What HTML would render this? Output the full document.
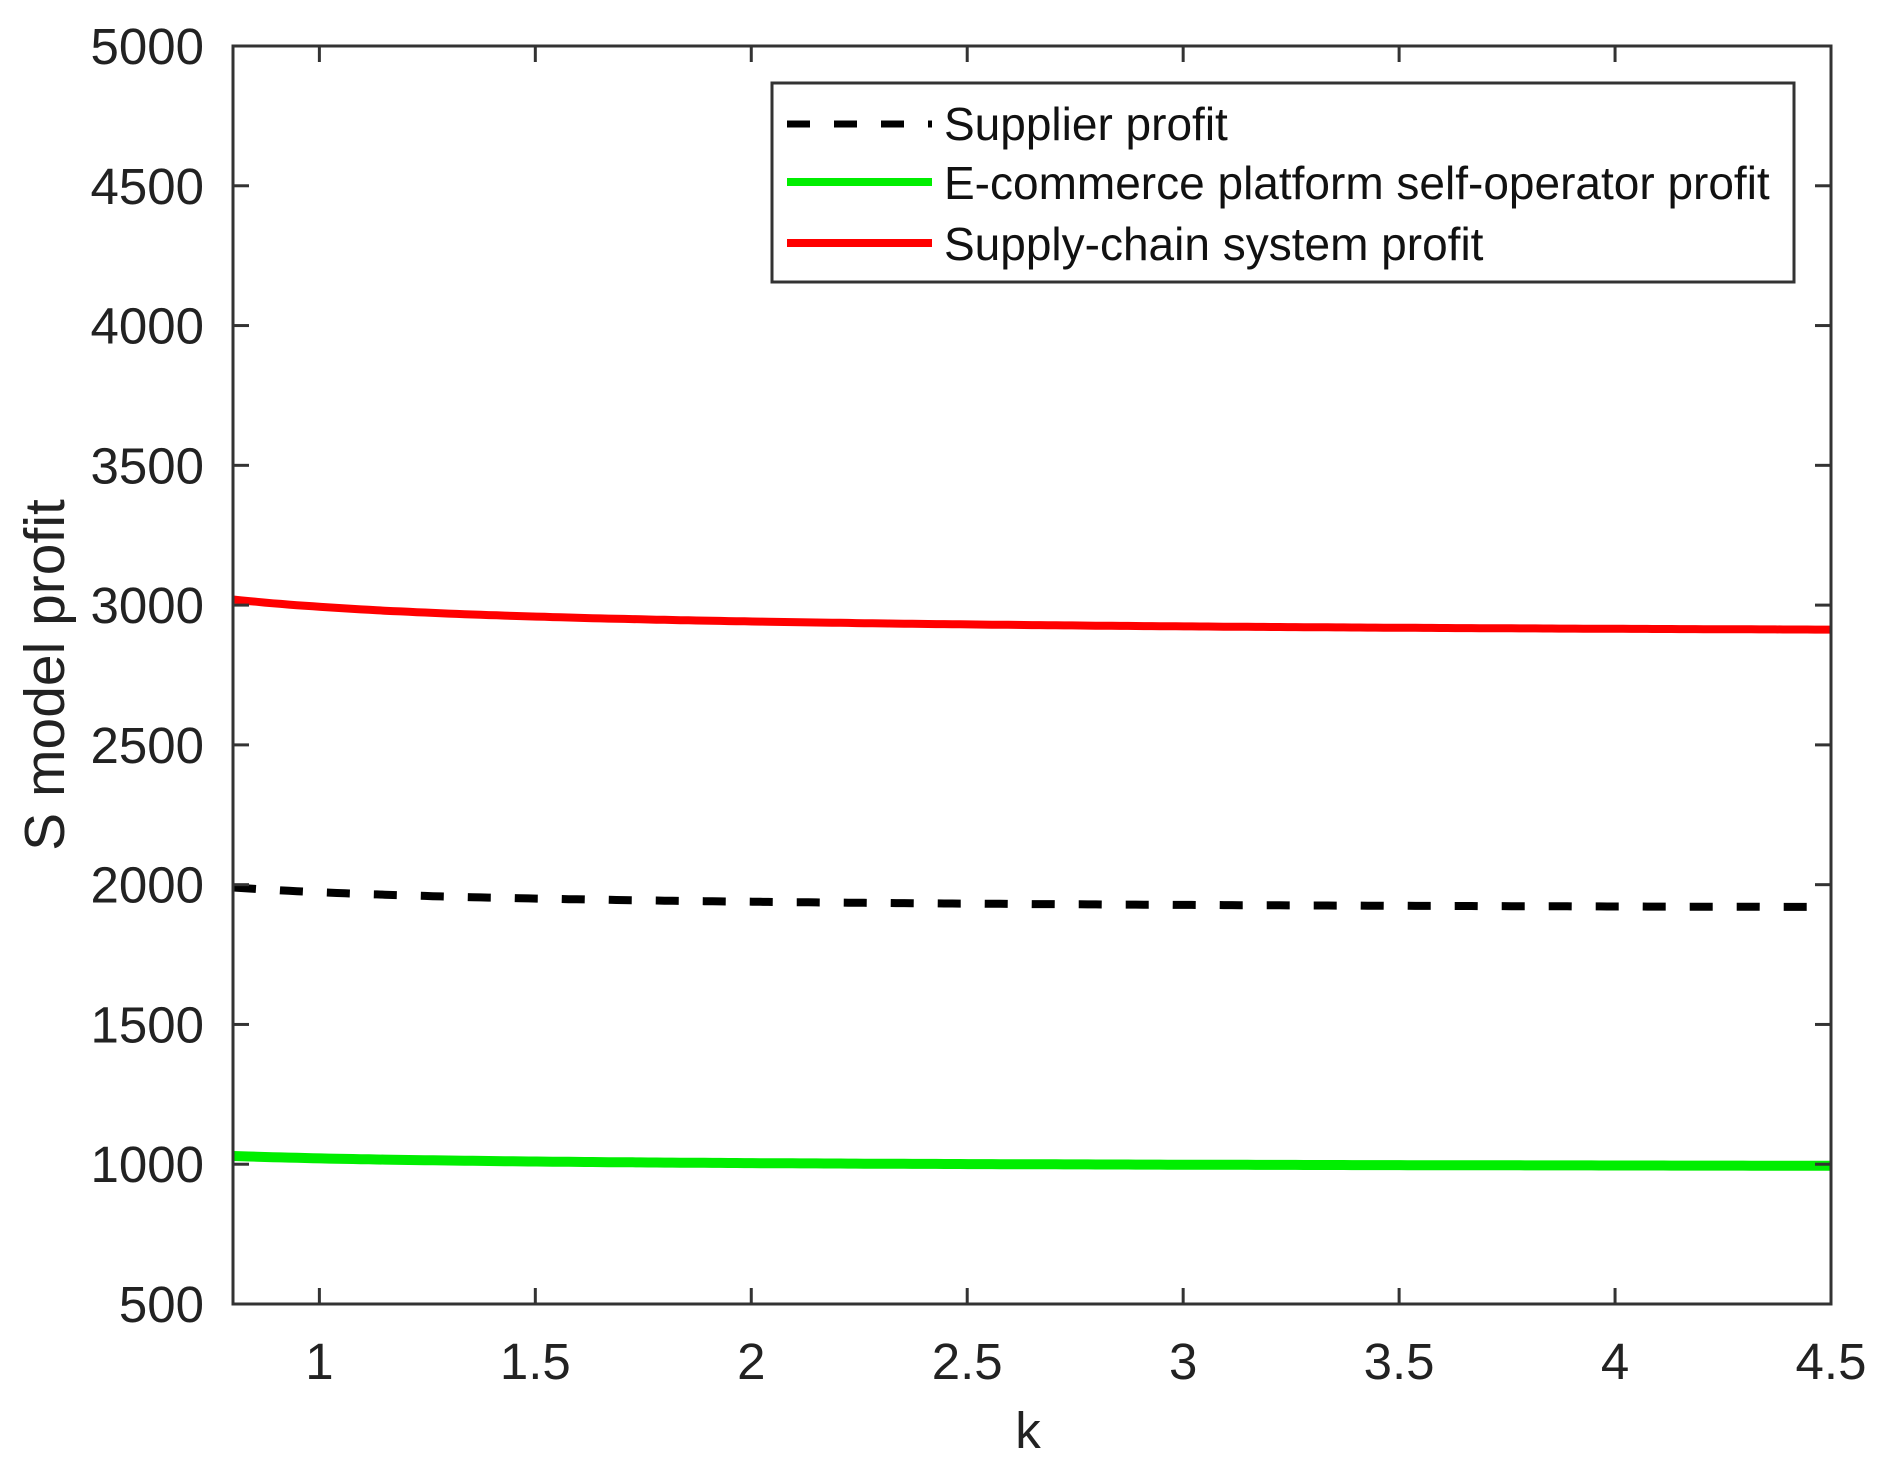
<!DOCTYPE html>
<html><head><meta charset="utf-8"><style>html,body{margin:0;padding:0;background:#fff}svg{display:block}</style></head>
<body>
<svg id="s" width="1881" height="1477" xmlns="http://www.w3.org/2000/svg" font-family="Liberation Sans, Arial, sans-serif">
<rect width="1881" height="1477" fill="#fff"/>
<g id="series"></g>
<rect x="233" y="46" width="1598" height="1258" fill="none" stroke="#333" stroke-width="3"/>
<g id="ticks" stroke="#333" stroke-width="3"></g>
<g id="labels" font-size="51" fill="#222"></g>
<text x="1028" y="1448" font-size="51" text-anchor="middle" fill="#222">k</text>
<text transform="translate(64,675) rotate(-90)" font-size="57" text-anchor="middle" fill="#222">S model profit</text>
<rect x="772" y="83" width="1022" height="199" fill="#fff" stroke="#333" stroke-width="3"/>
<line x1="787" y1="124" x2="932" y2="124" stroke="#000" stroke-width="7" stroke-dasharray="23,24"/>
<line x1="787" y1="182" x2="932" y2="182" stroke="#00ee00" stroke-width="8"/>
<line x1="787" y1="243" x2="932" y2="243" stroke="#ff0000" stroke-width="8"/>
<g font-size="46" fill="#111">
<text x="944" y="140">Supplier profit</text>
<text x="944" y="199">E-commerce platform self-operator profit</text>
<text x="944" y="260">Supply-chain system profit</text>
</g>
</svg>
<script>
var L=233,R=1831,T=46,B=1304;
function X(k){return L+(k-0.8)/(3.7)*(R-L);}
function Y(v){return T+(5000-v)/4500*(B-T);}
var ns="http://www.w3.org/2000/svg";
function el(t,a,p){var e=document.createElementNS(ns,t);for(var k in a)e.setAttribute(k,a[k]);document.getElementById(p).appendChild(e);return e;}
function path(c,d){var s="";for(var i=0;i<=200;i++){var k=0.8+3.7*i/200;s+=(i?"L":"M")+X(k).toFixed(1)+","+Y(c+d/k).toFixed(1);}return s;}
el("path",{d:path(2889,105),fill:"none",stroke:"#ff0000","stroke-width":8},"series");
el("path",{d:path(1905,68),fill:"none",stroke:"#000","stroke-width":8,"stroke-dasharray":"23,24"},"series");
el("path",{d:path(987,34),fill:"none",stroke:"#00ee00","stroke-width":10},"series");
for(var v=500;v<=5000;v+=500){var y=Y(v);
 if(v>500&&v<5000){el("line",{x1:L,y1:y,x2:L+16,y2:y},"ticks");el("line",{x1:R,y1:y,x2:R-16,y2:y},"ticks");}
 var t=el("text",{x:204,y:y+18,"text-anchor":"end"},"labels");t.textContent=v;}
[1,1.5,2,2.5,3,3.5,4,4.5].forEach(function(k){var x=X(k);
 if(k<4.5){el("line",{x1:x,y1:B,x2:x,y2:B-16},"ticks");el("line",{x1:x,y1:T,x2:x,y2:T+16},"ticks");}
 var t=el("text",{x:x,y:1379,"text-anchor":"middle"},"labels");t.textContent=k;});
</script>
</body></html>
